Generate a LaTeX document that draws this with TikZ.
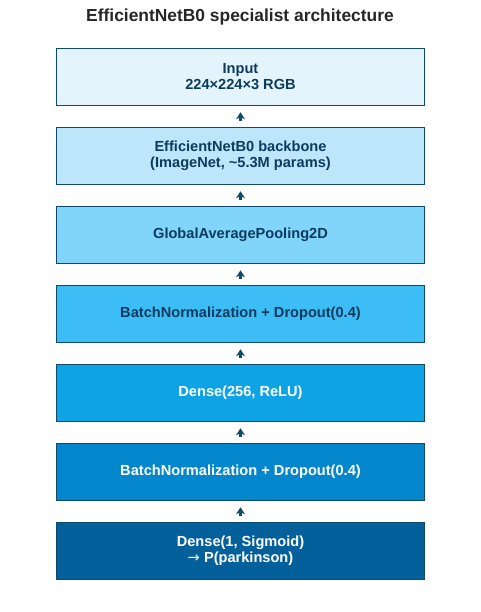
\documentclass[tikz,border=0pt]{standalone}
\usepackage{fontspec}
\setmainfont{Liberation Sans}
\newfontfamily\arrowfont{DejaVu Sans}
\usetikzlibrary{arrows.meta}
\definecolor{bord}{HTML}{0D4A6B}
\definecolor{txtd}{HTML}{0D3B5E}
\definecolor{cA}{HTML}{E3F4FD}
\definecolor{cB}{HTML}{BDE6FB}
\definecolor{cC}{HTML}{81D4FA}
\definecolor{cD}{HTML}{3DBDF6}
\definecolor{cE}{HTML}{0EA3E4}
\definecolor{cF}{HTML}{0386CB}
\definecolor{cG}{HTML}{04609A}
\tikzset{
  layer/.style={draw=bord, line width=1.6pt, minimum width=368pt, minimum height=57pt,
    inner sep=0pt, align=center, font=\fontsize{14.6}{16}\selectfont\bfseries},
  conn/.style={-{Stealth[length=7pt,width=9pt]}, draw=bord, line width=2.2pt,
    shorten >=6pt, shorten <=6pt}
}
\begin{document}
\begin{tikzpicture}[x=1pt,y=-1pt]
\useasboundingbox (0,0) rectangle (480,612);
\node[font=\fontsize{17.4}{20}\selectfont\bfseries, text=black!85] (title) at (240,17) {EfficientNetB0 specialist architecture};
\node[layer, fill=cA, text=txtd] (n1) at (240.5,77) {Input\\224×224×3 RGB};
\node[layer, fill=cB, text=txtd] (n2) at (240.5,156) {EfficientNetB0 backbone\\(ImageNet, \textasciitilde5.3M params)};
\node[layer, fill=cC, text=txtd] (n3) at (240.5,235) {GlobalAveragePooling2D};
\node[layer, fill=cD, text=txtd] (n4) at (240.5,314) {BatchNormalization + Dropout(0.4)};
\node[layer, fill=cE, text=white] (n5) at (240.5,393) {Dense(256, ReLU)};
\node[layer, fill=cF, text=white] (n6) at (240.5,472) {BatchNormalization + Dropout(0.4)};
\node[layer, fill=cG, text=white] (n7) at (240.5,551) {Dense(1, Sigmoid)\\{\arrowfont\mdseries →} P(parkinson)};
\draw[conn] (n2.north) -- (n1.south);
\draw[conn] (n3.north) -- (n2.south);
\draw[conn] (n4.north) -- (n3.south);
\draw[conn] (n5.north) -- (n4.south);
\draw[conn] (n6.north) -- (n5.south);
\draw[conn] (n7.north) -- (n6.south);
\end{tikzpicture}
\end{document}
